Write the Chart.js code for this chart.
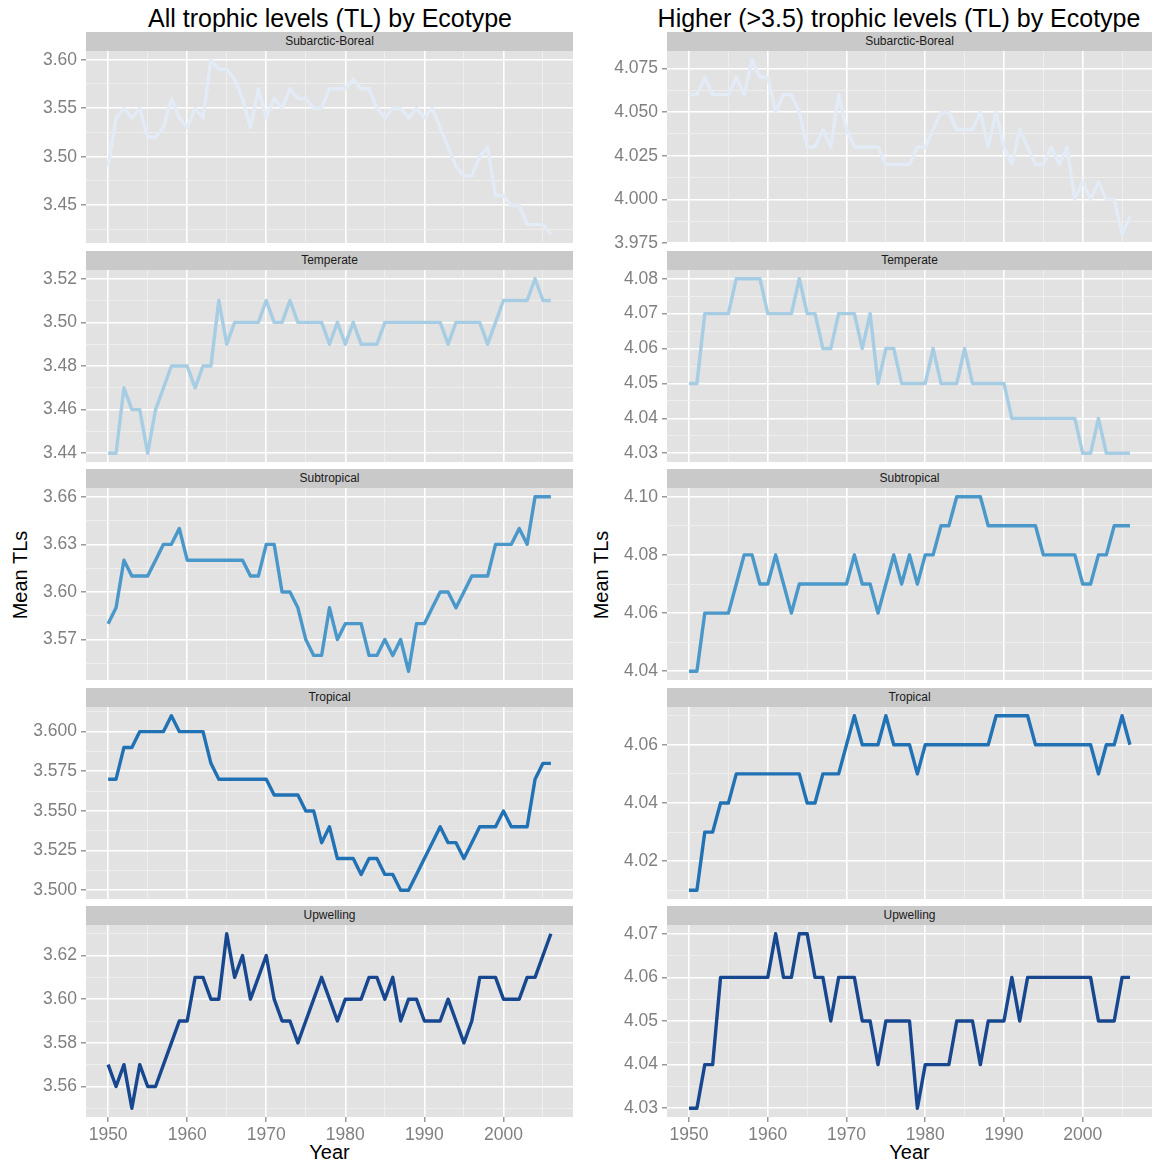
<!DOCTYPE html>
<html>
<head>
<meta charset="utf-8">
<script src="https://cdn.jsdelivr.net/npm/chart.js@4.4.1/dist/chart.umd.min.js"></script>
<style>
  html, body { margin: 0; padding: 0; background: #ffffff; }
  body { position: relative; width: 1156px; height: 1163px; overflow: hidden;
         font-family: "Liberation Sans", Arial, Helvetica, sans-serif; }
  canvas { position: absolute; }
  .title { position: absolute; top: 3px; font-size: 25px; color: #000; white-space: nowrap;
           transform: translateX(-50%); line-height: 30px; }
  .strip { position: absolute; height: 19px; background: #c9c9c9; color: #1a1a1a;
           font-size: 12px; line-height: 19px; text-align: center; white-space: nowrap; }
  .axis-title { position: absolute; font-size: 20px; color: #000; white-space: nowrap; line-height: 24px; }
</style>
</head>
<body>
<script>
// ---------------------------------------------------------------
// Mean trophic level by year for each ecotype
// ---------------------------------------------------------------
const years = [
  1950, 1951, 1952, 1953, 1954, 1955, 1956, 1957, 1958, 1959,
  1960, 1961, 1962, 1963, 1964, 1965, 1966, 1967, 1968, 1969,
  1970, 1971, 1972, 1973, 1974, 1975, 1976, 1977, 1978, 1979,
  1980, 1981, 1982, 1983, 1984, 1985, 1986, 1987, 1988, 1989,
  1990, 1991, 1992, 1993, 1994, 1995, 1996, 1997, 1998, 1999,
  2000, 2001, 2002, 2003, 2004, 2005, 2006
];
const ecotypes = ['Subarctic-Boreal', 'Temperate', 'Subtropical', 'Tropical', 'Upwelling'];
const yearTicks = [1950, 1960, 1970, 1980, 1990, 2000];

// All trophic levels
const allSubarcticBoreal = [
  3.49, 3.54, 3.55, 3.54, 3.55, 3.52, 3.52, 3.53, 3.56, 3.54,
  3.53, 3.55, 3.54, 3.60, 3.59, 3.59, 3.58, 3.56, 3.53, 3.57,
  3.54, 3.56, 3.55, 3.57, 3.56, 3.56, 3.55, 3.55, 3.57, 3.57,
  3.57, 3.58, 3.57, 3.57, 3.55, 3.54, 3.55, 3.55, 3.54, 3.55,
  3.54, 3.55, 3.53, 3.51, 3.49, 3.48, 3.48, 3.50, 3.51, 3.46,
  3.46, 3.45, 3.45, 3.43, 3.43, 3.43, 3.42
];
const allTemperate = [
  3.44, 3.44, 3.47, 3.46, 3.46, 3.44, 3.46, 3.47, 3.48, 3.48,
  3.48, 3.47, 3.48, 3.48, 3.51, 3.49, 3.50, 3.50, 3.50, 3.50,
  3.51, 3.50, 3.50, 3.51, 3.50, 3.50, 3.50, 3.50, 3.49, 3.50,
  3.49, 3.50, 3.49, 3.49, 3.49, 3.50, 3.50, 3.50, 3.50, 3.50,
  3.50, 3.50, 3.50, 3.49, 3.50, 3.50, 3.50, 3.50, 3.49, 3.50,
  3.51, 3.51, 3.51, 3.51, 3.52, 3.51, 3.51
];
const allSubtropical = [
  3.58, 3.59, 3.62, 3.61, 3.61, 3.61, 3.62, 3.63, 3.63, 3.64,
  3.62, 3.62, 3.62, 3.62, 3.62, 3.62, 3.62, 3.62, 3.61, 3.61,
  3.63, 3.63, 3.60, 3.60, 3.59, 3.57, 3.56, 3.56, 3.59, 3.57,
  3.58, 3.58, 3.58, 3.56, 3.56, 3.57, 3.56, 3.57, 3.55, 3.58,
  3.58, 3.59, 3.60, 3.60, 3.59, 3.60, 3.61, 3.61, 3.61, 3.63,
  3.63, 3.63, 3.64, 3.63, 3.66, 3.66, 3.66
];
const allTropical = [
  3.57, 3.57, 3.59, 3.59, 3.60, 3.60, 3.60, 3.60, 3.61, 3.60,
  3.60, 3.60, 3.60, 3.58, 3.57, 3.57, 3.57, 3.57, 3.57, 3.57,
  3.57, 3.56, 3.56, 3.56, 3.56, 3.55, 3.55, 3.53, 3.54, 3.52,
  3.52, 3.52, 3.51, 3.52, 3.52, 3.51, 3.51, 3.50, 3.50, 3.51,
  3.52, 3.53, 3.54, 3.53, 3.53, 3.52, 3.53, 3.54, 3.54, 3.54,
  3.55, 3.54, 3.54, 3.54, 3.57, 3.58, 3.58
];
const allUpwelling = [
  3.57, 3.56, 3.57, 3.55, 3.57, 3.56, 3.56, 3.57, 3.58, 3.59,
  3.59, 3.61, 3.61, 3.60, 3.60, 3.63, 3.61, 3.62, 3.60, 3.61,
  3.62, 3.60, 3.59, 3.59, 3.58, 3.59, 3.60, 3.61, 3.60, 3.59,
  3.60, 3.60, 3.60, 3.61, 3.61, 3.60, 3.61, 3.59, 3.60, 3.60,
  3.59, 3.59, 3.59, 3.60, 3.59, 3.58, 3.59, 3.61, 3.61, 3.61,
  3.60, 3.60, 3.60, 3.61, 3.61, 3.62, 3.63
];

// Higher (>3.5) trophic levels
const higherSubarcticBoreal = [
  4.06, 4.06, 4.07, 4.06, 4.06, 4.06, 4.07, 4.06, 4.08, 4.07,
  4.07, 4.05, 4.06, 4.06, 4.05, 4.03, 4.03, 4.04, 4.03, 4.06,
  4.04, 4.03, 4.03, 4.03, 4.03, 4.02, 4.02, 4.02, 4.02, 4.03,
  4.03, 4.04, 4.05, 4.05, 4.04, 4.04, 4.04, 4.05, 4.03, 4.05,
  4.03, 4.02, 4.04, 4.03, 4.02, 4.02, 4.03, 4.02, 4.03, 4.00,
  4.01, 4.00, 4.01, 4.00, 4.00, 3.98, 3.99
];
const higherTemperate = [
  4.05, 4.05, 4.07, 4.07, 4.07, 4.07, 4.08, 4.08, 4.08, 4.08,
  4.07, 4.07, 4.07, 4.07, 4.08, 4.07, 4.07, 4.06, 4.06, 4.07,
  4.07, 4.07, 4.06, 4.07, 4.05, 4.06, 4.06, 4.05, 4.05, 4.05,
  4.05, 4.06, 4.05, 4.05, 4.05, 4.06, 4.05, 4.05, 4.05, 4.05,
  4.05, 4.04, 4.04, 4.04, 4.04, 4.04, 4.04, 4.04, 4.04, 4.04,
  4.03, 4.03, 4.04, 4.03, 4.03, 4.03, 4.03
];
const higherSubtropical = [
  4.04, 4.04, 4.06, 4.06, 4.06, 4.06, 4.07, 4.08, 4.08, 4.07,
  4.07, 4.08, 4.07, 4.06, 4.07, 4.07, 4.07, 4.07, 4.07, 4.07,
  4.07, 4.08, 4.07, 4.07, 4.06, 4.07, 4.08, 4.07, 4.08, 4.07,
  4.08, 4.08, 4.09, 4.09, 4.10, 4.10, 4.10, 4.10, 4.09, 4.09,
  4.09, 4.09, 4.09, 4.09, 4.09, 4.08, 4.08, 4.08, 4.08, 4.08,
  4.07, 4.07, 4.08, 4.08, 4.09, 4.09, 4.09
];
const higherTropical = [
  4.01, 4.01, 4.03, 4.03, 4.04, 4.04, 4.05, 4.05, 4.05, 4.05,
  4.05, 4.05, 4.05, 4.05, 4.05, 4.04, 4.04, 4.05, 4.05, 4.05,
  4.06, 4.07, 4.06, 4.06, 4.06, 4.07, 4.06, 4.06, 4.06, 4.05,
  4.06, 4.06, 4.06, 4.06, 4.06, 4.06, 4.06, 4.06, 4.06, 4.07,
  4.07, 4.07, 4.07, 4.07, 4.06, 4.06, 4.06, 4.06, 4.06, 4.06,
  4.06, 4.06, 4.05, 4.06, 4.06, 4.07, 4.06
];
const higherUpwelling = [
  4.03, 4.03, 4.04, 4.04, 4.06, 4.06, 4.06, 4.06, 4.06, 4.06,
  4.06, 4.07, 4.06, 4.06, 4.07, 4.07, 4.06, 4.06, 4.05, 4.06,
  4.06, 4.06, 4.05, 4.05, 4.04, 4.05, 4.05, 4.05, 4.05, 4.03,
  4.04, 4.04, 4.04, 4.04, 4.05, 4.05, 4.05, 4.04, 4.05, 4.05,
  4.05, 4.06, 4.05, 4.06, 4.06, 4.06, 4.06, 4.06, 4.06, 4.06,
  4.06, 4.06, 4.05, 4.05, 4.05, 4.06, 4.06
];

// Y tick labels of each panel
const allTicksSubarcticBoreal = [3.45, 3.50, 3.55, 3.60];
const allTicksTemperate       = [3.44, 3.46, 3.48, 3.50, 3.52];
const allTicksSubtropical     = [3.57, 3.60, 3.63, 3.66];
const allTicksTropical        = [3.500, 3.525, 3.550, 3.575, 3.600];
const allTicksUpwelling       = [3.56, 3.58, 3.60, 3.62];

const higherTicksSubarcticBoreal = [3.975, 4.000, 4.025, 4.050, 4.075];
const higherTicksTemperate       = [4.03, 4.04, 4.05, 4.06, 4.07, 4.08];
const higherTicksSubtropical     = [4.04, 4.06, 4.08, 4.10];
const higherTicksTropical        = [4.02, 4.04, 4.06];
const higherTicksUpwelling       = [4.03, 4.04, 4.05, 4.06, 4.07];

// ---------------------------------------------------------------
// Styling and layout
// ---------------------------------------------------------------
const ecotypeColours = ['#e3ebf6', '#a6cde3', '#4a97c9', '#2171b5', '#17478f'];
const PANEL_BG = '#e2e2e2';
const GRID_MAJOR = '#ffffff';
const GRID_MINOR = '#f1f1f1';
const TICK_COLOUR = '#808080';
const FONT_FAMILY = '"Liberation Sans", Arial, Helvetica, sans-serif';
const TICK_FONT_SIZE = 17.5;

const COLUMNS = [
  { left: 0,   right: 580,  plotLeft: 86,  plotRight: 573,
    title: 'All trophic levels (TL) by Ecotype', titleX: 330, yTitleX: 20,
    series: [allSubarcticBoreal, allTemperate, allSubtropical, allTropical, allUpwelling],
    ticks: [allTicksSubarcticBoreal, allTicksTemperate, allTicksSubtropical, allTicksTropical, allTicksUpwelling],
    decimals: [2, 2, 2, 3, 2] },
  { left: 580, right: 1156, plotLeft: 667, plotRight: 1152,
    title: 'Higher (>3.5) trophic levels (TL) by Ecotype', titleX: 899, yTitleX: 601,
    series: [higherSubarcticBoreal, higherTemperate, higherSubtropical, higherTropical, higherUpwelling],
    ticks: [higherTicksSubarcticBoreal, higherTicksTemperate, higherTicksSubtropical, higherTicksTropical, higherTicksUpwelling],
    decimals: [3, 2, 2, 2, 2] }
];
const ROW_TOPS = [51, 270, 488, 707, 925];
const PLOT_H = 192;
const STRIP_H = 19;
const PAD = 12;
const X_AXIS_H = 30;

// ggplot-style range: data extent plus 5% on each side
function expandedRange(values) {
  const lo = Math.min(...values), hi = Math.max(...values);
  const pad = (hi - lo) * 0.05;
  return [lo - pad, hi + pad];
}
const [X_MIN, X_MAX] = expandedRange(years);

// Major ticks plus minor grid positions halfway between them
function gridTicks(majors, min, max) {
  const step = majors[1] - majors[0];
  const out = majors.map(v => ({ value: v }));
  for (let i = -1; i < majors.length; i++) {
    const m = majors[0] + (i + 0.5) * step;
    if (m > min && m < max) out.push({ value: m, minor: true });
  }
  return out.sort((a, b) => a.value - b.value);
}

const panelBackground = {
  id: 'panelBackground',
  beforeDraw(chart) {
    const { ctx, chartArea: a } = chart;
    ctx.save();
    ctx.fillStyle = PANEL_BG;
    ctx.fillRect(a.left, a.top, a.right - a.left, a.bottom - a.top);
    ctx.restore();
  }
};

function isMinor(ctx) { return ctx.tick && ctx.tick.minor; }

function gridOptions(drawTicks) {
  return {
    color: c => isMinor(c) ? GRID_MINOR : GRID_MAJOR,
    lineWidth: c => isMinor(c) ? 0.8 : 1.6,
    drawTicks: drawTicks,
    tickLength: 5,
    tickWidth: 1.2,
    tickColor: c => isMinor(c) ? 'rgba(0,0,0,0)' : TICK_COLOUR
  };
}

function addDiv(cls, text, style) {
  const d = document.createElement('div');
  d.className = cls;
  d.textContent = text;
  Object.assign(d.style, style);
  document.body.appendChild(d);
  return d;
}

function drawPanel(col, row) {
  const values = col.series[row];
  const majors = col.ticks[row];
  const decimals = col.decimals[row];
  const showX = row === ROW_TOPS.length - 1;
  const [yMin, yMax] = expandedRange(values);

  const width = col.right - col.left;
  const height = PAD + PLOT_H + (showX ? X_AXIS_H : 0) + PAD;
  const canvas = document.createElement('canvas');
  canvas.width = width;
  canvas.height = height;
  canvas.style.left = col.left + 'px';
  canvas.style.top = (ROW_TOPS[row] - PAD) + 'px';
  canvas.style.width = width + 'px';
  canvas.style.height = height + 'px';
  document.body.appendChild(canvas);

  addDiv('strip', ecotypes[row], {
    left: col.plotLeft + 'px',
    width: (col.plotRight - col.plotLeft) + 'px',
    top: (ROW_TOPS[row] - STRIP_H) + 'px'
  });

  new Chart(canvas, {
    type: 'line',
    data: {
      datasets: [{
        label: ecotypes[row],
        data: years.map((yr, i) => ({ x: yr, y: values[i] })),
        borderColor: ecotypeColours[row],
        borderWidth: 3.4,
        pointRadius: 0,
        tension: 0,
        fill: false,
        borderJoinStyle: 'round',
        borderCapStyle: 'butt'
      }]
    },
    options: {
      responsive: false,
      animation: false,
      devicePixelRatio: 1,
      events: [],
      layout: { padding: { left: 0, right: col.right - col.plotRight, top: PAD, bottom: PAD } },
      plugins: { legend: { display: false }, tooltip: { enabled: false }, title: { display: false } },
      scales: {
        x: {
          type: 'linear',
          min: X_MIN,
          max: X_MAX,
          bounds: 'data',
          border: { display: false },
          grid: gridOptions(showX),
          afterBuildTicks: s => { s.ticks = gridTicks(yearTicks, X_MIN, X_MAX); },
          afterFit: s => { s.height = showX ? X_AXIS_H : 0; s.paddingLeft = 0; s.paddingRight = 0; },
          ticks: {
            display: showX,
            autoSkip: false,
            maxRotation: 0,
            padding: 3,
            color: TICK_COLOUR,
            font: { family: FONT_FAMILY, size: TICK_FONT_SIZE },
            callback: (v, i, t) => t[i].minor ? '' : String(v)
          }
        },
        y: {
          type: 'linear',
          min: yMin,
          max: yMax,
          bounds: 'data',
          border: { display: false },
          grid: gridOptions(true),
          afterBuildTicks: s => { s.ticks = gridTicks(majors, yMin, yMax); },
          afterFit: s => { s.width = col.plotLeft - col.left; s.paddingTop = 0; s.paddingBottom = 0; },
          ticks: {
            autoSkip: false,
            padding: 4,
            color: TICK_COLOUR,
            font: { family: FONT_FAMILY, size: TICK_FONT_SIZE },
            callback: (v, i, t) => t[i].minor ? '' : v.toFixed(decimals)
          }
        }
      }
    },
    plugins: [panelBackground]
  });
}

COLUMNS.forEach(col => {
  addDiv('title', col.title, { left: col.titleX + 'px' });
  const midY = (ROW_TOPS[0] - STRIP_H + ROW_TOPS[ROW_TOPS.length - 1] + PLOT_H) / 2;
  addDiv('axis-title', 'Mean TLs', {
    left: col.yTitleX + 'px', top: midY + 'px',
    transform: 'translate(-50%, -50%) rotate(-90deg)'
  });
  addDiv('axis-title', 'Year', {
    left: ((col.plotLeft + col.plotRight) / 2) + 'px', top: '1140px',
    transform: 'translateX(-50%)'
  });
  ecotypes.forEach((_, row) => drawPanel(col, row));
});
</script>
</body>
</html>
